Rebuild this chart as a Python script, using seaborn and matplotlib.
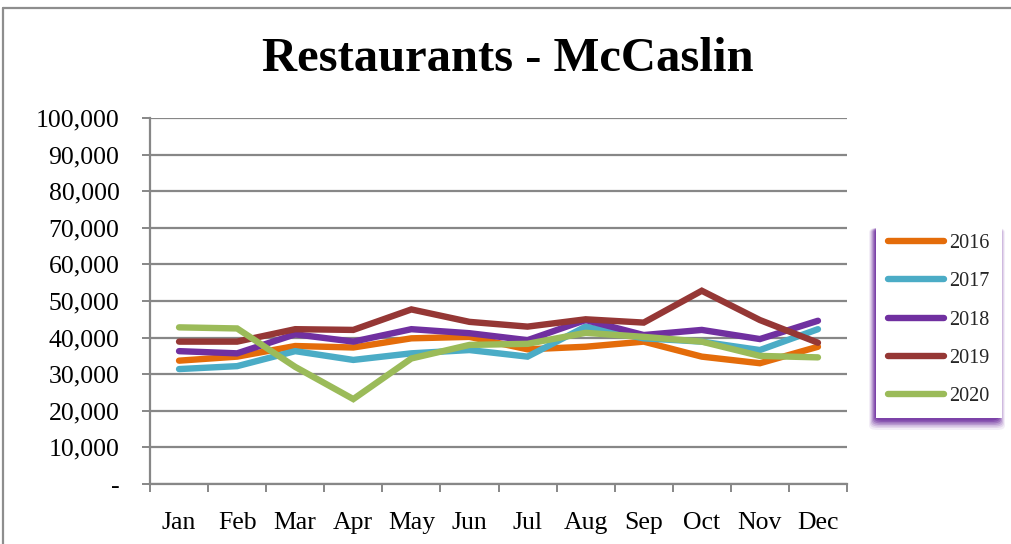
import matplotlib
matplotlib.use("Agg")
import matplotlib.pyplot as plt
from matplotlib.lines import Line2D
from matplotlib.patches import FancyBboxPatch
import numpy as np
import pandas as pd
import seaborn as sns

# Monthly restaurant figures for the McCaslin area
months = ["Jan", "Feb", "Mar", "Apr", "May", "Jun",
          "Jul", "Aug", "Sep", "Oct", "Nov", "Dec"]
sales_2016 = [33700, 34800, 37700, 37300, 39800, 40200, 36800, 37500, 38900, 34800, 33000, 37500]
sales_2017 = [31400, 32200, 36300, 33900, 35700, 36600, 34800, 43000, 39800, 38900, 36600, 42300]
sales_2018 = [36300, 35700, 40900, 38900, 42300, 41200, 39300, 44800, 40700, 42100, 39600, 44600]
sales_2019 = [38900, 38900, 42300, 42100, 47700, 44300, 43000, 45000, 44100, 52800, 44800, 38600]
sales_2020 = [42800, 42500, 32000, 23200, 34300, 38000, 38300, 41300, 40200, 38900, 35000, 34600]
years = ["2016", "2017", "2018", "2019", "2020"]
y_ticks = [0, 10000, 20000, 30000, 40000, 50000, 60000, 70000, 80000, 90000, 100000]
y_tick_labels = ["-", "10,000", "20,000", "30,000", "40,000", "50,000",
                 "60,000", "70,000", "80,000", "90,000", "100,000"]

colors = ["#E46C0A", "#4BACC6", "#7030A0", "#953735", "#9BBB59"]
grid_gray = "#878787"

df = pd.DataFrame({
    "month": months * 5,
    "year": np.repeat(years, 12),
    "sales": sales_2016 + sales_2017 + sales_2018 + sales_2019 + sales_2020,
})

sns.set_theme(style="white")
plt.rcParams["font.family"] = ["Liberation Serif", "DejaVu Serif"]

W, H = 1011, 544
fig = plt.figure(figsize=(W / 100, H / 100), dpi=100)
ax = fig.add_axes([150 / W, 1 - 484 / H, (847 - 150) / W, (484 - 118) / H])

sns.lineplot(data=df, x="month", y="sales", hue="year", palette=colors,
             linewidth=4.6, sort=False, ax=ax, legend=False,
             solid_capstyle="round", solid_joinstyle="miter")

ax.set_xlim(-0.5, 11.5)
ax.set_ylim(0, 100000)
ax.set_yticks(y_ticks)
ax.set_yticklabels(y_tick_labels)
ax.set_xticks(range(12))
ax.set_xticklabels(months)
ax.set_xticks(np.arange(-0.5, 12, 1), minor=True)
ax.set_xlabel("")
ax.set_ylabel("")

ax.grid(axis="y", color=grid_gray, linewidth=1.6)
ax.set_axisbelow(True)
for side in ["top", "right"]:
    ax.spines[side].set_visible(False)
for side in ["left", "bottom"]:
    ax.spines[side].set_color(grid_gray)
    ax.spines[side].set_linewidth(1.6)

ax.tick_params(axis="y", which="major", direction="out", length=6, width=1.4,
               color=grid_gray, labelsize=18.5, pad=16, left=True)
ax.tick_params(axis="x", which="major", length=0, labelsize=18.5, pad=20, bottom=True)
ax.tick_params(axis="x", which="minor", direction="out", length=6, width=1.4,
               color=grid_gray, bottom=True)
for lbl in ax.get_xticklabels() + ax.get_yticklabels():
    lbl.set_color("black")

fig.text(508 / W, 1 - 59 / H, "Restaurants - McCaslin", ha="center", va="center",
         fontsize=35, fontweight="bold", color="black")

# Outer chart frame (left and top edges)
fig.add_artist(Line2D([3 / W, 3 / W], [0, 1 - 8 / H], transform=fig.transFigure,
                      color="#8e8e8e", linewidth=1.6))
fig.add_artist(Line2D([3 / W, 1], [1 - 8 / H, 1 - 8 / H], transform=fig.transFigure,
                      color="#8e8e8e", linewidth=1.6))

# Soft purple shadow around and below the legend
lx0, lx1, ly0, ly1 = 876, 998, 222, 414
layers = [(7, 16, 0.08), (6, 14, 0.12), (5, 12.5, 0.17), (4, 11, 0.24),
          (3, 9.5, 0.32), (2, 8, 0.42), (1, 6.5, 0.55)]
for grow, drop, a in layers:
    shadow = FancyBboxPatch(((lx0 - grow) / W, 1 - (ly1 + drop) / H),
                            (lx1 - lx0 + 2 * grow) / W, (ly1 + drop - ly0 - 6) / H,
                            boxstyle="round,pad=0,rounding_size=0.008",
                            transform=fig.transFigure, facecolor="#7030A0",
                            edgecolor="none", alpha=a, zorder=1)
    fig.add_artist(shadow)

handles = [Line2D([0], [0], color=c, linewidth=4.6, solid_capstyle="round") for c in colors]
leg = fig.legend(handles, years, loc="upper left",
                 bbox_to_anchor=(lx0 / W, 1 - ly0 / H), borderaxespad=0,
                 frameon=True, fancybox=False, fontsize=14.5,
                 handlelength=2.8, handletextpad=0.25, labelspacing=0.95,
                 borderpad=0.6)
leg.get_frame().set_facecolor("white")
leg.get_frame().set_edgecolor("none")
leg.get_frame().set_alpha(1)
leg.set_zorder(5)

fig.savefig("out.png", dpi=100, facecolor="white")
